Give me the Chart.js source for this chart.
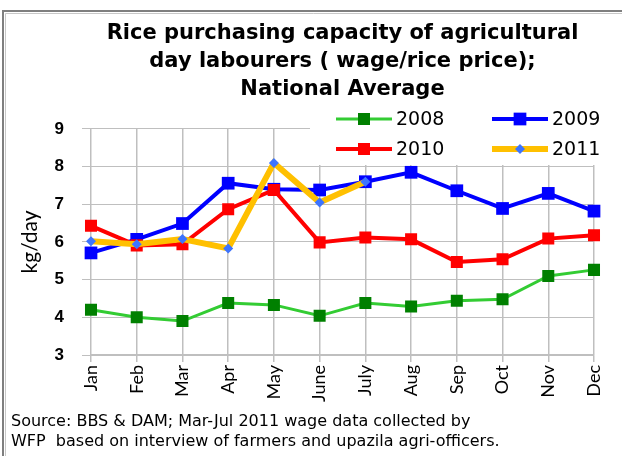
<!DOCTYPE html>
<html><head><meta charset="utf-8">
<script src="https://cdn.jsdelivr.net/npm/chart.js@4.4.1/dist/chart.umd.min.js"></script>
<style>html,body{margin:0;padding:0;background:#fff}#wrap{width:622px;height:456px;position:relative}canvas{display:block}</style>
</head><body><div id="wrap"><canvas id="c" width="622" height="456"></canvas></div>
<script>
const months = ['Jan','Feb','Mar','Apr','May','June','July','Aug','Sep','Oct','Nov','Dec'];
const series2008 = [4.20,4.00,3.90,4.38,4.33,4.04,4.38,4.29,4.44,4.48,5.10,5.26];
const series2009 = [5.71,6.07,6.49,7.56,7.40,7.38,7.60,7.85,7.36,6.89,7.29,6.82];
const series2010 = [6.43,5.91,5.94,6.87,7.38,5.99,6.12,6.07,5.47,5.54,6.09,6.18];
const series2011 = [6.02,5.94,6.08,5.83,8.10,7.05,7.60,null,null,null,null,null];
const seriesNames = ['2008','2009','2010','2011'];
const yTicks = [3,4,5,6,7,8,9];
const titleLines = ['Rice purchasing capacity of agricultural','day labourers ( wage/rice price);','National Average'];
const sourceLines = ['Source: BBS & DAM; Mar-Jul 2011 wage data collected by','WFP  based on interview of farmers and upazila agri-officers.'];
const yTitle = 'kg/day';

const bgPlugin = {
  id:'bg',
  beforeDraw(chart){const c=chart.ctx;c.save();c.fillStyle='#fff';c.fillRect(0,0,chart.width,chart.height);c.restore();},
  afterDraw(chart){
    const c=chart.ctx;c.save();
    c.strokeStyle='#7f7f7f';c.lineWidth=2;
    c.beginPath();c.moveTo(3,chart.height);c.lineTo(3,11);c.lineTo(chart.width,11);c.stroke();
    c.strokeStyle='#c8c8c8';c.lineWidth=1;
    c.beginPath();c.moveTo(5.5,chart.height);c.lineTo(5.5,13.5);c.lineTo(chart.width,13.5);c.stroke();
    c.restore();
  }
};

const legendPlugin = {
  id:'customLegend',
  beforeDatasetsDraw(chart){const c=chart.ctx;c.save();c.fillStyle='#fff';c.fillRect(310,100,300,65);c.restore();},
  afterDraw(chart){
    const c=chart.ctx;
    const pos=[[336,119],[492,119],[336,149],[492,149]];
    chart.data.datasets.forEach((ds,i)=>{
      const [x,y]=pos[i];
      c.save();
      c.strokeStyle=ds.borderColor;c.lineWidth=ds.borderWidth;c.lineCap='butt';
      c.beginPath();c.moveTo(x,y);c.lineTo(x+56,y);c.stroke();
      c.fillStyle=ds.pointBackgroundColor;c.strokeStyle=ds.pointBackgroundColor;
      Chart.helpers.drawPoint(c,{pointStyle:ds.pointStyle,radius:ds.pointRadius,rotation:0,borderWidth:0},x+28,y);
      c.fillStyle='#000';c.font='19px "DejaVu Sans"';c.textBaseline='middle';c.textAlign='left';
      c.fillText(ds.label,x+60,y+1);
      c.restore();
    });
  }
};

new Chart(document.getElementById('c'),{
  type:'line',
  data:{labels:months,datasets:[
    {label:seriesNames[0],data:series2008,borderColor:'#33cc33',borderWidth:3,pointStyle:'rect',pointRadius:8.5,pointBackgroundColor:'#008000',pointBorderWidth:0,order:3,tension:0},
    {label:seriesNames[1],data:series2009,borderColor:'#0000ff',borderWidth:4,pointStyle:'rect',pointRadius:9,pointBackgroundColor:'#0000ff',pointBorderWidth:0,order:2,tension:0},
    {label:seriesNames[2],data:series2010,borderColor:'#ff0000',borderWidth:4,pointStyle:'rect',pointRadius:8.5,pointBackgroundColor:'#ff0000',pointBorderWidth:0,order:1,tension:0},
    {label:seriesNames[3],data:series2011,borderColor:'#ffc000',borderWidth:6,pointStyle:'rectRot',pointRadius:5,pointBackgroundColor:'#3d74ff',pointBorderWidth:0,order:0,tension:0,spanGaps:false}
  ]},
  options:{
    responsive:false,animation:false,devicePixelRatio:1,
    layout:{padding:{left:11,right:28,top:0,bottom:0}},
    plugins:{
      legend:{display:false},tooltip:{enabled:false},
      title:{display:true,text:titleLines,fullSize:false,color:'#000',font:{family:'DejaVu Sans',size:21,weight:'bold',lineHeight:1.333},padding:{top:20,bottom:25}},
      subtitle:{display:true,position:'bottom',align:'start',text:sourceLines,color:'#000',font:{family:'DejaVu Sans',size:16,lineHeight:1.25},padding:{top:0,bottom:4}}
    },
    scales:{
      x:{
        grid:{color:'#bfbfbf',lineWidth:1.5,tickLength:7,drawTicks:true},
        border:{color:'#bfbfbf',width:1.5},
        ticks:{color:'#000',font:{family:'Lato',size:18},minRotation:90,maxRotation:90,autoSkip:false,padding:3},
        afterFit(s){s.height=57;}
      },
      y:{
        min:3,max:9,
        afterBuildTicks(s){s.ticks=yTicks.map(v=>({value:v}));},
        grid:{color:'#bfbfbf',lineWidth:1,tickLength:9},
        border:{display:false},
        ticks:{color:'#000',font:{family:'Liberation Sans',size:17,weight:'bold'},padding:18},
        title:{display:true,text:yTitle,color:'#000',font:{family:'Lato',size:21},padding:{top:7,bottom:0}},
        afterFit(s){s.width=80;}
      }
    }
  },
  plugins:[bgPlugin,legendPlugin]
});
</script></body></html>
